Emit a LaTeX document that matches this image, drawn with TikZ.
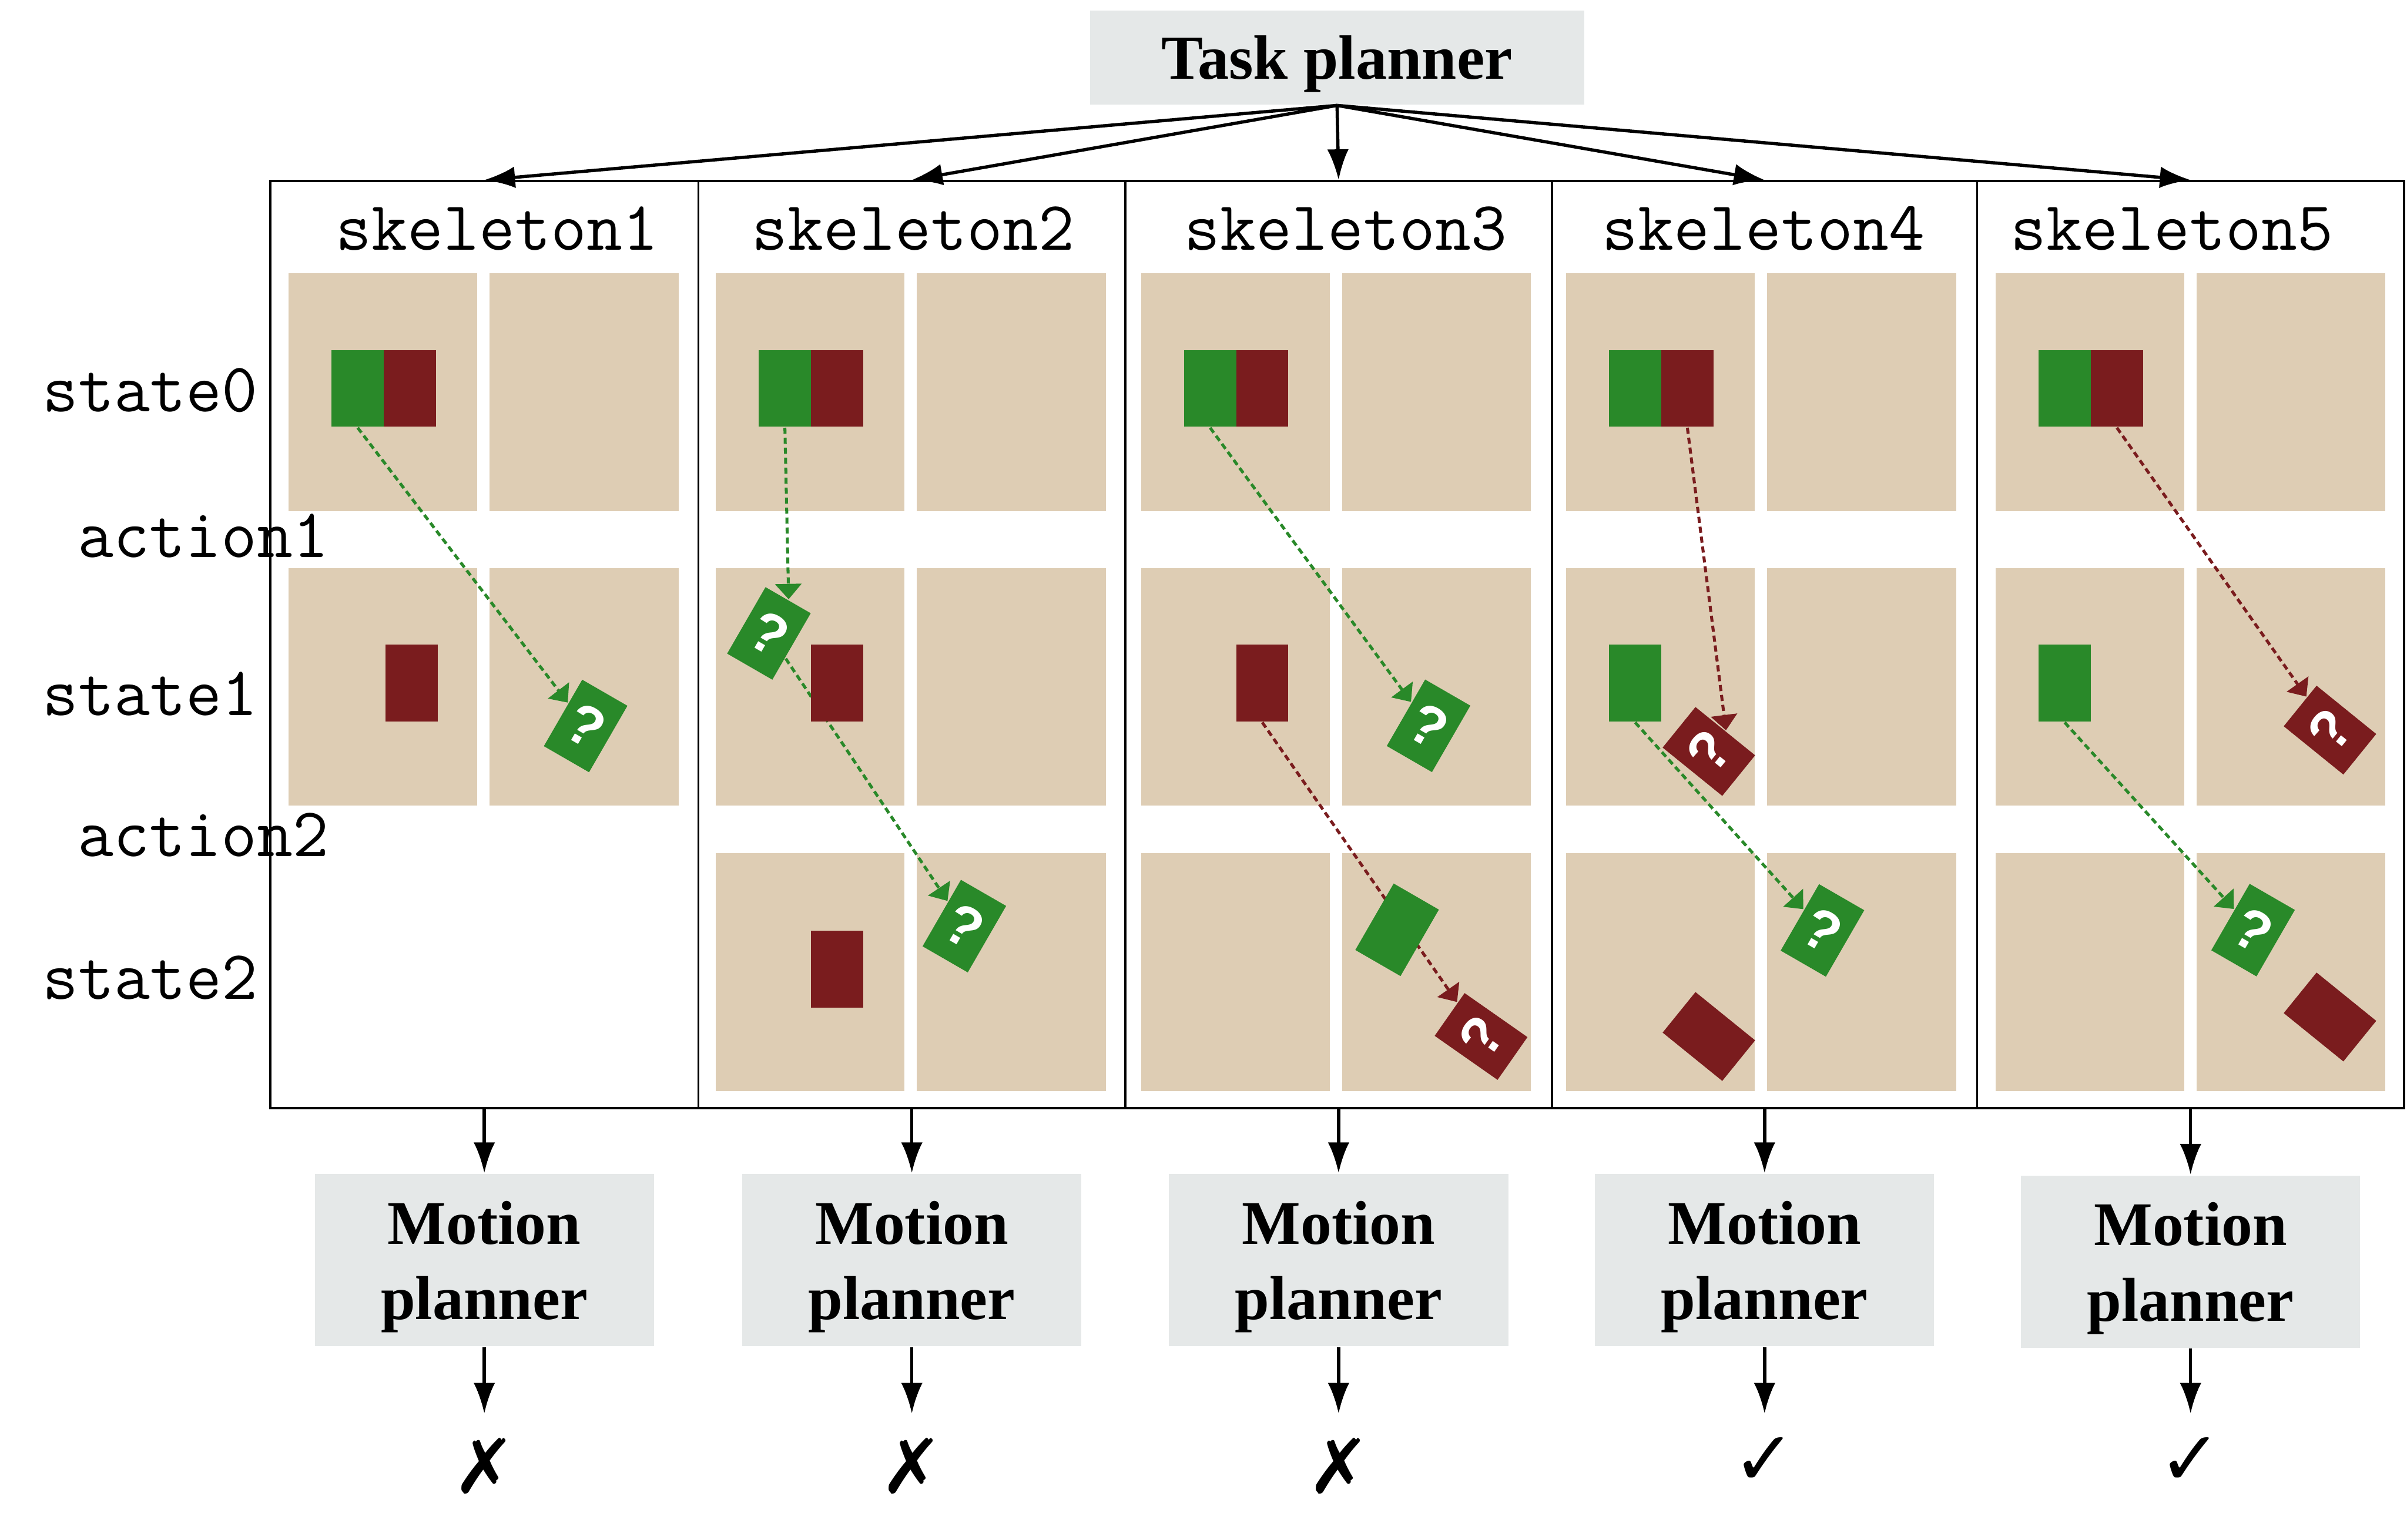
\documentclass[tikz,border=0pt]{standalone}
\usepackage{fontspec}
\setmainfont{Liberation Serif}
\newfontfamily\symfont{DejaVu Sans}
\newfontfamily\qfont{Liberation Sans}
\usetikzlibrary{arrows.meta}

\definecolor{tanbg}{RGB}{222,205,180}
\definecolor{blkgreen}{RGB}{41,137,41}
\definecolor{blkred}{RGB}{122,28,30}
\definecolor{boxgray}{RGB}{229,232,232}

\pgfdeclarelayer{panel}
\pgfdeclarelayer{link}
\pgfsetlayers{panel,link,main}

\begin{document}
\begin{tikzpicture}[
    flow/.style={-{Latex[length=2mm,width=1.4mm]}, line width=0.6pt},
    planner/.style={fill=boxgray, align=center, inner sep=0pt, text depth=0pt,
        font=\bfseries\fontsize{11.5}{14}\selectfont},
    skcol/.style={draw, line width=0.4pt, minimum width=2.78cm, minimum height=6.04cm, inner sep=0pt},
    mono/.style={font=\ttfamily\fontsize{12.9}{14}\selectfont, inner sep=0pt},
    gblk/.style={fill=blkgreen, minimum width=0.34cm, minimum height=0.5cm, inner sep=0pt,
        text=white, font=\qfont\bfseries\fontsize{10.5}{10.5}\selectfont},
    rblk/.style={gblk, fill=blkred},
    gmove/.style={draw=blkgreen, line width=0.55pt, dash pattern=on 0.4mm off 0.25mm,
        -{Triangle[length=1mm,width=1.7mm]}},
    rmove/.style={gmove, draw=blkred},
    resmark/.style={font=\symfont\fontsize{14}{14}\selectfont, inner xsep=0pt, inner ysep=1.5mm}
]
\useasboundingbox (0,0) rectangle (15.68,-10.03);

% ---------------- Task planner ----------------
\node[planner, minimum width=3.22cm, minimum height=0.61cm,
      font=\bfseries\fontsize{11.6}{13}\selectfont] (task) at (8.71,-0.375) {Task planner};

% ---------------- skeleton columns ----------------
\node[skcol, minimum width=2.79cm] (sk1) at (3.155,-4.20) {};
\node[skcol] (sk2) at (5.94,-4.20) {};
\node[skcol] (sk3) at (8.72,-4.20) {};
\node[skcol, minimum width=2.77cm] (sk4) at (11.495,-4.20) {};
\node[skcol] (sk5) at (14.27,-4.20) {};

\node[mono, anchor=base west] (lab1) at (2.18,-1.63) {skeleton1};
\node[mono, anchor=base west] (lab2) at (4.89,-1.63) {skeleton2};
\node[mono, anchor=base west] (lab3) at (7.71,-1.63) {skeleton3};
\node[mono, anchor=base west] (lab4) at (10.43,-1.63) {skeleton4};
\node[mono, anchor=base west] (lab5) at (13.09,-1.63) {skeleton5};

% row labels
\node[mono, anchor=base west] (st0) at (0.27,-2.68) {state0};
\node[mono, anchor=base west] (ac1) at (0.50,-3.63) {action1};
\node[mono, anchor=base west] (st1) at (0.27,-4.66) {state1};
\node[mono, anchor=base west] (ac2) at (0.50,-5.58) {action2};
\node[mono, anchor=base west] (st2) at (0.27,-6.51) {state2};

% task planner to skeletons
\draw[flow] (task.south) -- (sk1.north);
\draw[flow] (task.south) -- (sk2.north);
\draw[flow] (task.south) -- (sk3.north);
\draw[flow] (task.south) -- (sk4.north);
\draw[flow] (task.south) -- (sk5.north);

% ---------------- skeleton1 ----------------
\begin{scope}[shift={(2.16,0)}]
    \begin{pgfonlayer}{panel}
        \fill[tanbg] (-0.28,-1.78) rectangle (0.95,-3.33);
        \fill[tanbg] (1.03,-1.78) rectangle (2.26,-3.33);
        \fill[tanbg] (-0.28,-3.70) rectangle (0.95,-5.25);
        \fill[tanbg] (1.03,-3.70) rectangle (2.26,-5.25);
    \end{pgfonlayer}

    \node[gblk] (s0g1) at (0.17,-2.53) {};
    \node[rblk] (s0r1) at (0.51,-2.53) {};
    \node[rblk] (s1r1) at (0.52,-4.45) {};
    \node[gblk, rotate=-30] (q1) at (1.655,-4.73) {?};

    \begin{pgfonlayer}{link}
        \draw[gmove] (s0g1.south) -- (q1);
    \end{pgfonlayer}
\end{scope}

% ---------------- skeleton2 ----------------
\begin{scope}[shift={(4.943,0)}]
    \begin{pgfonlayer}{panel}
        \fill[tanbg] (-0.28,-1.78) rectangle (0.95,-3.33);
        \fill[tanbg] (1.03,-1.78) rectangle (2.26,-3.33);
        \fill[tanbg] (-0.28,-3.70) rectangle (0.95,-5.25);
        \fill[tanbg] (1.03,-3.70) rectangle (2.26,-5.25);
        \fill[tanbg] (-0.28,-5.56) rectangle (0.95,-7.11);
        \fill[tanbg] (1.03,-5.56) rectangle (2.26,-7.11);
    \end{pgfonlayer}

    \node[gblk] (s0g2) at (0.17,-2.53) {};
    \node[rblk] (s0r2) at (0.51,-2.53) {};
    \node[gblk, rotate=-30] (q2a) at (0.066,-4.127) {?};
    \node[rblk] (s1r2) at (0.51,-4.45) {};
    \node[rblk] (s2r2) at (0.51,-6.315) {};
    \node[gblk, rotate=-30] (q2b) at (1.339,-6.034) {?};

    \begin{pgfonlayer}{link}
        \draw[gmove] (s0g2.south) -- (q2a.north);
        \draw[gmove] (q2a) -- (q2b);
    \end{pgfonlayer}
\end{scope}

% ---------------- skeleton3 ----------------
\begin{scope}[shift={(7.713,0)}]
    \begin{pgfonlayer}{panel}
        \fill[tanbg] (-0.28,-1.78) rectangle (0.95,-3.33);
        \fill[tanbg] (1.03,-1.78) rectangle (2.26,-3.33);
        \fill[tanbg] (-0.28,-3.70) rectangle (0.95,-5.25);
        \fill[tanbg] (1.03,-3.70) rectangle (2.26,-5.25);
        \fill[tanbg] (-0.28,-5.56) rectangle (0.95,-7.11);
        \fill[tanbg] (1.03,-5.56) rectangle (2.26,-7.11);
    \end{pgfonlayer}

    \node[gblk] (s0g3) at (0.17,-2.53) {};
    \node[rblk] (s0r3) at (0.51,-2.53) {};
    \node[rblk] (s1r3) at (0.51,-4.45) {};
    \node[gblk, rotate=-30] (q3a) at (1.593,-4.729) {?};
    \node[gblk, rotate=-30] (s2g3) at (1.388,-6.058) {};
    \node[rblk, rotate=55] (r3) at (1.935,-6.753) {?};

    \begin{pgfonlayer}{link}
        \draw[gmove] (s0g3.south) -- (q3a);
        \draw[rmove] (s1r3.south) -- (r3);
    \end{pgfonlayer}
\end{scope}

% ---------------- skeleton4 ----------------
\begin{scope}[shift={(10.482,0)}]
    \begin{pgfonlayer}{panel}
        \fill[tanbg] (-0.28,-1.78) rectangle (0.95,-3.33);
        \fill[tanbg] (1.03,-1.78) rectangle (2.26,-3.33);
        \fill[tanbg] (-0.28,-3.70) rectangle (0.95,-5.25);
        \fill[tanbg] (1.03,-3.70) rectangle (2.26,-5.25);
        \fill[tanbg] (-0.28,-5.56) rectangle (0.95,-7.11);
        \fill[tanbg] (1.03,-5.56) rectangle (2.26,-7.11);
    \end{pgfonlayer}

    \node[gblk] (s0g4) at (0.17,-2.53) {};
    \node[rblk] (s0r4) at (0.51,-2.53) {};
    \node[gblk] (s1g4) at (0.17,-4.45) {};
    \node[rblk, rotate=51] (r4a) at (0.65,-4.896) {?};
    \node[rblk, rotate=51] (s2r4) at (0.65,-6.753) {};
    \node[gblk, rotate=-30] (q4) at (1.39,-6.062) {?};

    \begin{pgfonlayer}{link}
        \draw[rmove] (s0r4.south) -- (r4a.east);
        \draw[gmove] (s1g4.south) -- (q4);
    \end{pgfonlayer}
\end{scope}

% ---------------- skeleton5 ----------------
\begin{scope}[shift={(13.28,0)}]
    \begin{pgfonlayer}{panel}
        \fill[tanbg] (-0.28,-1.78) rectangle (0.95,-3.33);
        \fill[tanbg] (1.03,-1.78) rectangle (2.26,-3.33);
        \fill[tanbg] (-0.28,-3.70) rectangle (0.95,-5.25);
        \fill[tanbg] (1.03,-3.70) rectangle (2.26,-5.25);
        \fill[tanbg] (-0.28,-5.56) rectangle (0.95,-7.11);
        \fill[tanbg] (1.03,-5.56) rectangle (2.26,-7.11);
    \end{pgfonlayer}

    \node[gblk] (s0g5) at (0.17,-2.53) {};
    \node[rblk] (s0r5) at (0.51,-2.53) {};
    \node[gblk] (s1g5) at (0.17,-4.45) {};
    \node[rblk, rotate=51] (r5a) at (1.898,-4.757) {?};
    \node[gblk, rotate=-30] (q5) at (1.397,-6.06) {?};
    \node[rblk, rotate=51] (s2r5) at (1.898,-6.626) {};

    \begin{pgfonlayer}{link}
        \draw[rmove] (s0r5.south) -- (r5a);
        \draw[gmove] (s1g5.south) -- (q5);
    \end{pgfonlayer}
\end{scope}

% ---------------- Motion planners ----------------
\node[planner, minimum width=2.21cm, minimum height=1.12cm] (mp1) at (3.155,-8.21) {Motion\\planner};
\node[planner, minimum width=2.21cm, minimum height=1.12cm] (mp2) at (5.94,-8.21) {Motion\\planner};
\node[planner, minimum width=2.21cm, minimum height=1.12cm] (mp3) at (8.72,-8.21) {Motion\\planner};
\node[planner, minimum width=2.21cm, minimum height=1.12cm] (mp4) at (11.495,-8.21) {Motion\\planner};
\node[planner, minimum width=2.21cm, minimum height=1.12cm] (mp5) at (14.27,-8.22) {Motion\\planner};

\draw[flow] (sk1.south) -- (mp1.north);
\draw[flow] (sk2.south) -- (mp2.north);
\draw[flow] (sk3.south) -- (mp3.north);
\draw[flow] (sk4.south) -- (mp4.north);
\draw[flow] (sk5.south) -- (mp5.north);

% results
\node[resmark, anchor=north] (res1) at (3.155,-9.21) {✗};
\node[resmark, anchor=north] (res2) at (5.94,-9.21) {✗};
\node[resmark, anchor=north] (res3) at (8.72,-9.21) {✗};
\node[resmark, anchor=north] (res4) at (11.495,-9.21) {✓};
\node[resmark, anchor=north] (res5) at (14.27,-9.21) {✓};

\draw[flow] (mp1.south) -- (res1.north);
\draw[flow] (mp2.south) -- (res2.north);
\draw[flow] (mp3.south) -- (res3.north);
\draw[flow] (mp4.south) -- (res4.north);
\draw[flow] (mp5.south) -- (res5.north);
\end{tikzpicture}
\end{document}
